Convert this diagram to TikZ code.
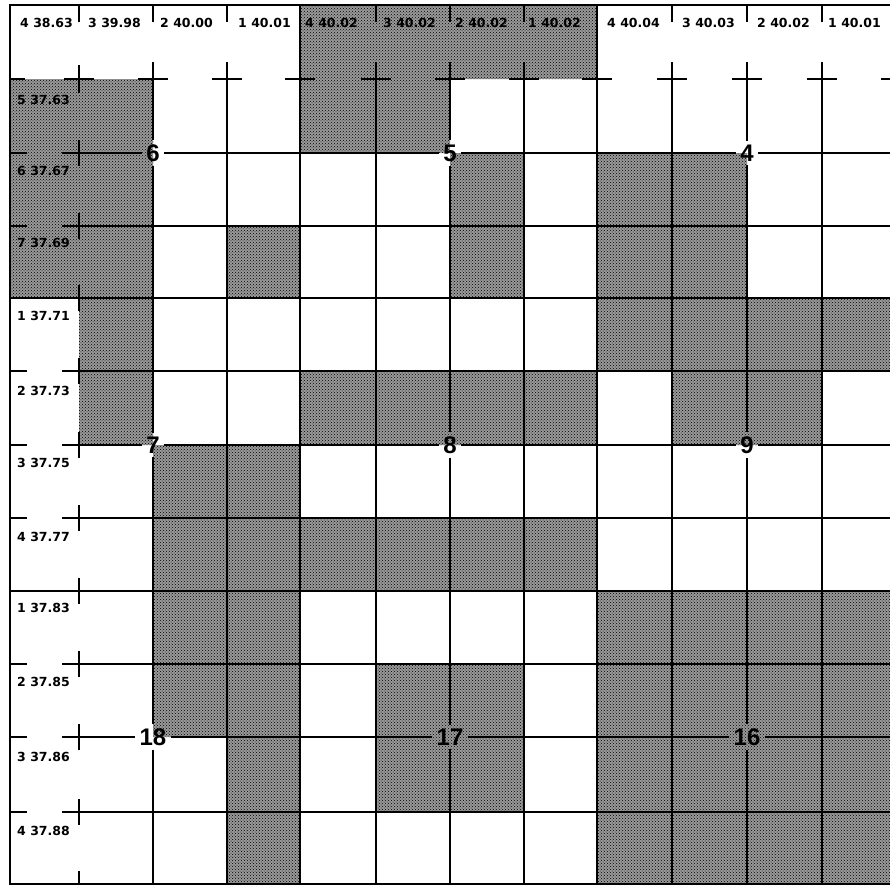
\documentclass[tikz,border=0pt]{standalone}
\usepackage{fontspec}
\setmainfont{DejaVu Sans}
\newfontfamily\numfont{Liberation Sans}
\usepackage{tikz}
\usetikzlibrary{patterns}

\begin{document}
\begin{tikzpicture}[x=1pt,y=-1pt,
  lotshade/.style={preaction={fill=black!40},pattern=crosshatch dots,pattern color=black},
  lotline/.style={line width=1.6pt},
  secline/.style={line width=2.8pt},
  lotlabel/.style={anchor=west,inner sep=0pt,font=\bfseries\fontsize{12.5}{12.5}\selectfont},
  secnum/.style={inner sep=4pt,font=\numfont\bfseries\fontsize{24}{24}\selectfont}]
  \useasboundingbox (0,0) rectangle (890,886);
  % shaded lots
  \fill[lotshade] (300,5) rectangle (597,79)
    (10,79) rectangle (153,298) (300,79) rectangle (450,153)
    (450,153) rectangle (524,298) (597,153) rectangle (747,298) (227,226) rectangle (300,298)
    (79,298) rectangle (153,445) (597,298) rectangle (890,371)
    (300,371) rectangle (597,445) (672,371) rectangle (822,445)
    (153,445) rectangle (300,737) (227,737) rectangle (300,884) (300,518) rectangle (597,591)
    (597,591) rectangle (890,884) (376,664) rectangle (524,812);
  % quarter-quarter lines
  \draw[lotline] (79,5) -- (79,22) (153,5) -- (153,22) (227,5) -- (227,22)
    (376,5) -- (376,22) (450,5) -- (450,22) (524,5) -- (524,22)
    (672,5) -- (672,22) (747,5) -- (747,22) (822,5) -- (822,22);
  \draw[lotline] (227,62) -- (227,884) (376,62) -- (376,884) (524,62) -- (524,884)
    (672,62) -- (672,884) (822,62) -- (822,884);
  \draw[lotline] (62,226) -- (890,226) (62,371) -- (890,371) (62,518) -- (890,518)
    (62,664) -- (890,664) (62,812) -- (890,812);
  \draw[lotline] (10,153) -- (27,153) (10,226) -- (27,226) (10,371) -- (27,371) (10,445) -- (27,445)
    (10,518) -- (27,518) (10,664) -- (27,664) (10,737) -- (27,737) (10,812) -- (27,812);
  \draw[lotline] (10,79) -- (25,79) (64,79) -- (94,79) (138,79) -- (168,79) (212,79) -- (242,79)
    (285,79) -- (315,79) (361,79) -- (391,79) (435,79) -- (465,79) (509,79) -- (539,79)
    (582,79) -- (612,79) (657,79) -- (687,79) (732,79) -- (762,79) (807,79) -- (837,79)
    (881,79) -- (890,79);
  \draw[lotline] (79,65) -- (79,93) (79,140) -- (79,166) (79,213) -- (79,239) (79,285) -- (79,311)
    (79,358) -- (79,384) (79,432) -- (79,458) (79,505) -- (79,531) (79,578) -- (79,604)
    (79,651) -- (79,677) (79,724) -- (79,750) (79,799) -- (79,825) (79,871) -- (79,884);
  % section lines and frame
  \draw[secline] (300,5) -- (300,884) (597,5) -- (597,884) (10,298) -- (890,298) (10,591) -- (890,591);
  \draw[secline] (890,5) -- (10,5) -- (10,884) -- (890,884);
  % section numbers
  \node[secnum] (s6) at (153,153) {6};
  \node[secnum] (s5) at (450,153) {5};
  \node[secnum] (s4) at (747,153) {4};
  \node[secnum] (s7) at (153,445) {7};
  \node[secnum] (s8) at (450,445) {8};
  \node[secnum] (s9) at (747,445) {9};
  \node[secnum] (s18) at (153,737) {18};
  \node[secnum] (s17) at (450,737) {17};
  \node[secnum] (s16) at (747,737) {16};
  \coordinate (w153) at (62,153);
  \coordinate (e153) at (890,153);
  \coordinate (w445) at (62,445);
  \coordinate (e445) at (890,445);
  \coordinate (w737) at (62,737);
  \coordinate (e737) at (890,737);
  \coordinate (n153) at (153,62);
  \coordinate (b153) at (153,884);
  \coordinate (n450) at (450,62);
  \coordinate (b450) at (450,884);
  \coordinate (n747) at (747,62);
  \coordinate (b747) at (747,884);
  \draw[lotline] (w153) -- (s6) -- (s5) -- (s4) -- (e153);
  \draw[lotline] (w445) -- (s7) -- (s8) -- (s9) -- (e445);
  \draw[lotline] (w737) -- (s18) -- (s17) -- (s16) -- (e737);
  \draw[lotline] (n153) -- (s6) -- (s7) -- (s18) -- (b153);
  \draw[lotline] (n450) -- (s5) -- (s8) -- (s17) -- (b450);
  \draw[lotline] (n747) -- (s4) -- (s9) -- (s16) -- (b747);
  % lot numbers and acreages
  \node[lotlabel] (h1) at (20,23) {4 38.63};
  \node[lotlabel] (h2) at (88,23) {3 39.98};
  \node[lotlabel] (h3) at (160,23) {2 40.00};
  \node[lotlabel] (h4) at (238,23) {1 40.01};
  \node[lotlabel] (h5) at (305,23) {4 40.02};
  \node[lotlabel] (h6) at (383,23) {3 40.02};
  \node[lotlabel] (h7) at (455,23) {2 40.02};
  \node[lotlabel] (h8) at (528,23) {1 40.02};
  \node[lotlabel] (h9) at (607,23) {4 40.04};
  \node[lotlabel] (h10) at (682,23) {3 40.03};
  \node[lotlabel] (h11) at (757,23) {2 40.02};
  \node[lotlabel] (h12) at (828,23) {1 40.01};
  \node[lotlabel] (w1) at (17,100) {5 37.63};
  \node[lotlabel] (w2) at (17,171) {6 37.67};
  \node[lotlabel] (w3) at (17,243) {7 37.69};
  \node[lotlabel] (w4) at (17,316) {1 37.71};
  \node[lotlabel] (w5) at (17,391) {2 37.73};
  \node[lotlabel] (w6) at (17,463) {3 37.75};
  \node[lotlabel] (w7) at (17,537) {4 37.77};
  \node[lotlabel] (w8) at (17,608) {1 37.83};
  \node[lotlabel] (w9) at (17,682) {2 37.85};
  \node[lotlabel] (w10) at (17,757) {3 37.86};
  \node[lotlabel] (w11) at (17,831) {4 37.88};
\end{tikzpicture}
\end{document}
